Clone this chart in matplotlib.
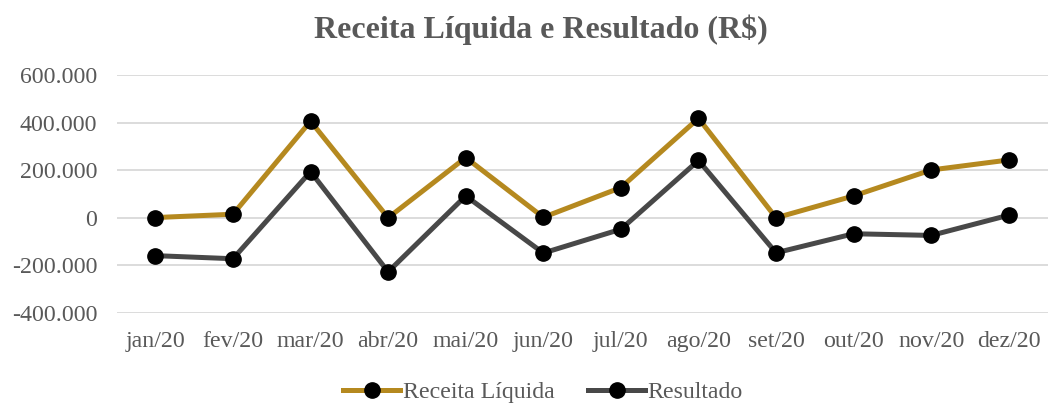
import matplotlib.pyplot as plt
from matplotlib.ticker import FuncFormatter

meses = ["jan/20", "fev/20", "mar/20", "abr/20", "mai/20", "jun/20",
         "jul/20", "ago/20", "set/20", "out/20", "nov/20", "dez/20"]
receita = [1000, 15000, 406000, 0, 253000, 2000, 127000, 418000, 0, 92000, 201000, 243000]
resultado = [-159000, -172000, 194000, -227000, 92000, -148000, -48000, 241000, -147000, -67000, -74000, 11000]

plt.rcParams['font.family'] = ['Liberation Serif', 'DejaVu Serif']
cinza = "#595959"

fig = plt.figure(figsize=(10.51, 4.04), dpi=100)
ax = fig.add_axes([116.6 / 1051, 1 - 313 / 404, (1047.6 - 116.6) / 1051, (313 - 75) / 404])

x = range(len(meses))
ax.plot(x, receita, color="#B5891F", lw=3.6, marker="o", ms=11,
        mfc="black", mec="black", label="Receita Líquida", zorder=3)
ax.plot(x, resultado, color="#484848", lw=3.6, marker="o", ms=11,
        mfc="black", mec="black", label="Resultado", zorder=3)

ax.set_xlim(-0.5, len(meses) - 0.5)
ax.set_ylim(-400000, 600000)
ax.set_yticks(range(-400000, 600001, 200000))
ax.yaxis.set_major_formatter(FuncFormatter(lambda v, p: f"{int(v):,}".replace(",", ".")))
ax.set_xticks(list(x))
ax.set_xticklabels(meses)
ax.grid(axis="y", color="#D9D9D9", lw=1.3)
ax.set_axisbelow(True)
for s in ax.spines.values():
    s.set_visible(False)
ax.tick_params(length=0, labelsize=17.2, labelcolor=cinza)
ax.tick_params(axis="y", pad=14)
ax.tick_params(axis="x", pad=13)

fig.text(541 / 1051, 1 - 30 / 404, "Receita Líquida e Resultado (R$)", ha="center", va="center",
         fontsize=23, fontweight="bold", color=cinza)

leg = fig.legend(loc="center", bbox_to_anchor=(543 / 1051, 1 - 392 / 404), ncol=2, frameon=False,
                 fontsize=17.2, handlelength=2.4, handletextpad=0.1, columnspacing=1.4)
for t in leg.get_texts():
    t.set_color(cinza)

fig.savefig("out.png", dpi=100)
